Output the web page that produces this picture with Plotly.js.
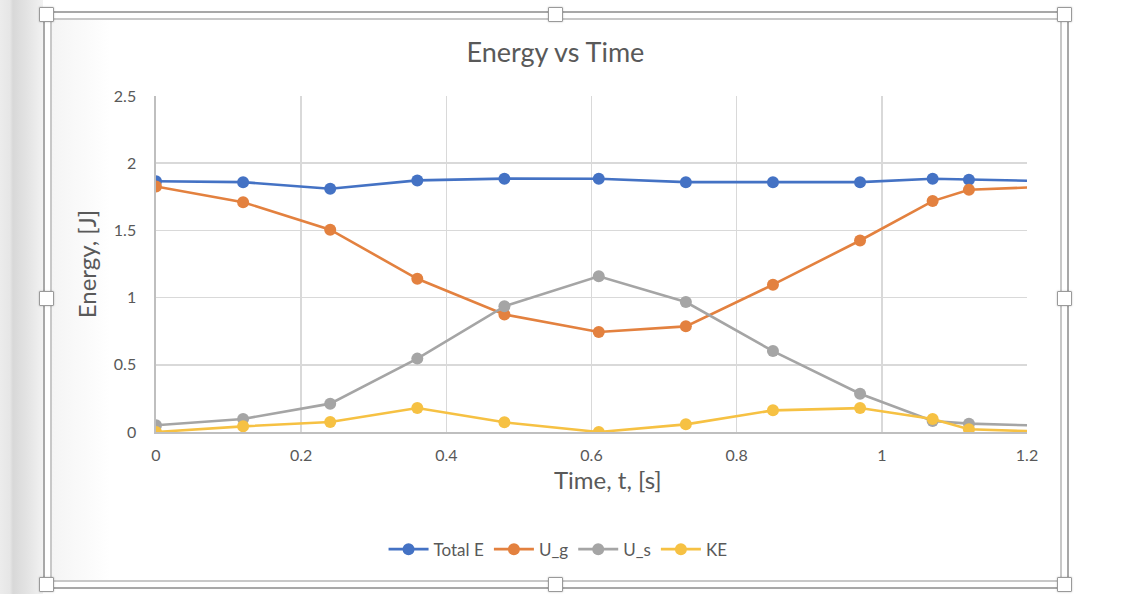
<!DOCTYPE html>
<html>
<head>
<meta charset="utf-8">
<script src="https://cdn.plot.ly/plotly-3.0.1.min.js"></script>
<style>
  html, body { margin: 0; padding: 0; background: #ffffff; }
  #wrap { position: relative; width: 1121px; height: 594px; overflow: hidden; background: #ffffff; }
  #strip { position: absolute; left: 0; top: 0; width: 43px; height: 594px;
           background: linear-gradient(to right, #ececec 0px, #e6e6e6 10px, #d8d8d8 13px, #e4e4e4 28px, #f2f2f2 43px); }
  #shadow { position: absolute; left: 50px; top: 18px; width: 60px; height: 563px;
           background: linear-gradient(to right, #f4f4f4, #ffffff); }
  .ln { position: absolute; }
  .handle { position: absolute; width: 13px; height: 13px; background: #ffffff; border: 1px solid #9a9a9a;
            border-radius: 1px; box-shadow: 0 0 2px rgba(0,0,0,0.25); }
  #chart { position: absolute; left: 0; top: 0; width: 1121px; height: 594px; }
</style>
</head>
<body>
<div id="wrap">
  <div id="strip"></div>
  <div id="shadow"></div>
  <div id="chart"></div>
  <!-- outer frame (darker) -->
  <div class="ln" style="left:43px;top:11px;width:1026px;height:2px;background:#a8a8a8"></div>
  <div class="ln" style="left:43px;top:587px;width:1026px;height:2px;background:#a8a8a8"></div>
  <div class="ln" style="left:43px;top:11px;width:2px;height:578px;background:#a8a8a8"></div>
  <div class="ln" style="left:1067px;top:11px;width:2px;height:578px;background:#a8a8a8"></div>
  <!-- inner frame (lighter) -->
  <div class="ln" style="left:50px;top:18px;width:1012px;height:2px;background:#c8c8c8"></div>
  <div class="ln" style="left:50px;top:580px;width:1012px;height:2px;background:#c8c8c8"></div>
  <div class="ln" style="left:50px;top:18px;width:2px;height:564px;background:#c8c8c8"></div>
  <div class="ln" style="left:1060px;top:18px;width:2px;height:564px;background:#c8c8c8"></div>
  <!-- handles -->
  <div class="handle" style="left:39px;top:7px"></div>
  <div class="handle" style="left:548px;top:7px"></div>
  <div class="handle" style="left:1057px;top:7px"></div>
  <div class="handle" style="left:39px;top:291px"></div>
  <div class="handle" style="left:1057px;top:291px"></div>
  <div class="handle" style="left:39px;top:577px"></div>
  <div class="handle" style="left:548px;top:577px"></div>
  <div class="handle" style="left:1057px;top:577px"></div>
</div>
<script>
// ---- data ----
var timeS   = [0, 0.12, 0.24, 0.36, 0.48, 0.61, 0.73, 0.85, 0.97, 1.07, 1.12, 1.24];
var totalE  = [1.866, 1.859, 1.810, 1.872, 1.885, 1.884, 1.859, 1.859, 1.859, 1.884, 1.877, 1.865];
var uG      = [1.827, 1.710, 1.505, 1.140, 0.875, 0.744, 0.786, 1.096, 1.425, 1.718, 1.802, 1.827];
var uS      = [0.050, 0.097, 0.211, 0.546, 0.935, 1.158, 0.967, 0.602, 0.285, 0.082, 0.062, 0.044];
var kE      = [0.000, 0.042, 0.074, 0.178, 0.072, 0.000, 0.057, 0.161, 0.178, 0.097, 0.020, 0.000];
var seriesNames = ['Total E', 'U_g', 'U_s', 'KE'];
var seriesColors = ['#4472C4', '#E3813F', '#A5A5A5', '#F6C143'];
var xTickVals = [0, 0.2, 0.4, 0.6, 0.8, 1.0, 1.2];
var xTickText = ['0', '0.2', '0.4', '0.6', '0.8', '1', '1.2'];
var yTickVals = [0, 0.5, 1.0, 1.5, 2.0, 2.5];
var yTickText = ['0', '0.5', '1', '1.5', '2', '2.5'];
var chartTitle = 'Energy vs Time';
var xTitle = 'Time, t, [s]';
var yTitle = 'Energy, [J]';

var FONT = 'Lato, "Open Sans", sans-serif';
var TXT = '#595959';

var ys = [totalE, uG, uS, kE];
var traces = ys.map(function (y, i) {
  return {
    x: timeS, y: y, type: 'scatter', mode: 'lines+markers',
    name: seriesNames[i],
    line: { color: seriesColors[i], width: 2.6 },
    marker: { color: seriesColors[i], size: 12 },
    cliponaxis: true
  };
});

var layout = {
  width: 1121, height: 594,
  paper_bgcolor: 'rgba(0,0,0,0)', plot_bgcolor: 'rgba(0,0,0,0)',
  margin: { l: 156, r: 94, t: 96, b: 162 },
  font: { family: FONT, color: TXT },
  title: { text: chartTitle, xref: 'container', x: 0.4955, xanchor: 'center',
           yref: 'container', y: 0.912, yanchor: 'middle',
           font: { family: FONT, size: 27, color: TXT } },
  xaxis: {
    range: [0, 1.2], tickmode: 'array', tickvals: xTickVals, ticktext: xTickText,
    showgrid: true, gridcolor: '#d9d9d9', gridwidth: 1.6,
    showline: true, linecolor: '#bfbfbf', linewidth: 1.6, zeroline: false,
    ticks: '', ticklabelstandoff: 8,
    tickfont: { family: FONT, size: 16, color: TXT },
    automargin: false, fixedrange: true
  },
  yaxis: {
    range: [0, 2.5], tickmode: 'array', tickvals: yTickVals, ticktext: yTickText,
    showgrid: true, gridcolor: '#d9d9d9', gridwidth: 1.6,
    showline: true, linecolor: '#bfbfbf', linewidth: 1.6, zeroline: false,
    ticks: '', ticklabelstandoff: 15,
    tickfont: { family: FONT, size: 16, color: TXT },
    title: { text: yTitle, standoff: 10, font: { family: FONT, size: 24, color: TXT } },
    automargin: false, fixedrange: true
  },
  annotations: [{
    text: xTitle, xref: 'paper', yref: 'paper',
    x: (608 - 156) / 871, xanchor: 'center',
    y: (432 - 479) / 336, yanchor: 'middle',
    showarrow: false, font: { family: FONT, size: 24, color: TXT }
  }],
  showlegend: true,
  legend: {
    orientation: 'h', x: 0.4616, xanchor: 'center', y: -0.35, yanchor: 'middle',
    font: { family: FONT, size: 17, color: TXT }, bgcolor: 'rgba(0,0,0,0)',
    traceorder: 'normal', itemwidth: 40
  }
};

Plotly.newPlot('chart', traces, layout, { displayModeBar: false, staticPlot: true });
</script>
</body>
</html>
